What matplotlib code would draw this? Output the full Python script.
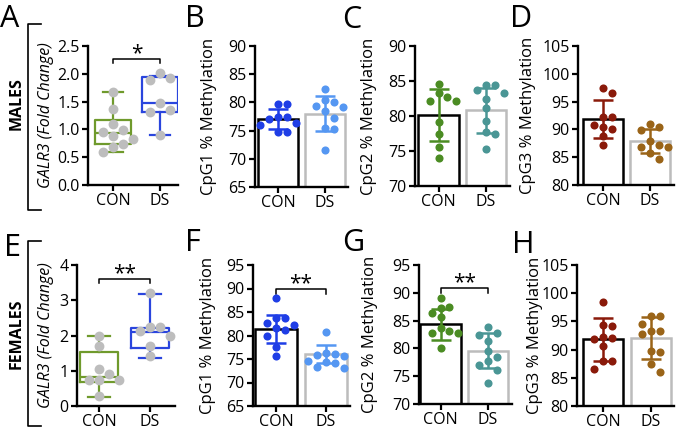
import numpy as np
import matplotlib
matplotlib.use("Agg")
import matplotlib.pyplot as plt
from matplotlib.lines import Line2D

plt.rcParams["font.family"] = ["Open Sans", "DejaVu Sans"]

# ---- data ----
groups = ["CON", "DS"]

# GALR3 fold change (box plots)
a_con = [1.68, 1.37, 1.09, 0.99, 0.96, 0.88, 0.83, 0.74, 0.69, 0.60]
a_ds = [2.01, 1.93, 1.88, 1.48, 1.34, 1.32, 0.90]
a_box_con = dict(q1=0.74, med=0.93, q3=1.17, whislo=0.60, whishi=1.68)
a_box_ds = dict(q1=1.32, med=1.47, q3=1.94, whislo=0.90, whishi=1.96)

e_con = [2.00, 1.69, 1.06, 0.90, 0.75, 0.75, 0.75, 0.28]
e_ds = [3.20, 2.23, 2.23, 2.12, 1.98, 1.69, 1.41]
e_box_con = dict(q1=0.68, med=0.83, q3=1.53, whislo=0.25, whishi=2.00)
e_box_ds = dict(q1=1.64, med=2.10, q3=2.22, whislo=1.35, whishi=3.17)

# % methylation (bars = mean, error = SD)
b_con = [79.7, 79.7, 77.5, 77.5, 77.0, 76.3, 76.0, 74.7, 74.7]
b_ds = [82.4, 80.4, 80.1, 79.3, 79.1, 78.5, 77.3, 75.4, 75.2, 71.5]
b_mean, b_sd = [77.0, 78.0], [1.75, 3.1]

c_con = [84.6, 83.3, 82.7, 82.1, 82.1, 79.1, 77.4, 75.6, 74.0]
c_ds = [84.5, 84.5, 83.7, 83.3, 82.5, 81.1, 79.3, 77.7, 77.4, 75.3]
c_mean, c_sd = [80.1, 80.8], [3.7, 3.25]

d_con = [97.5, 96.6, 92.2, 92.2, 90.8, 90.5, 90.0, 88.9, 87.2]
d_ds = [90.9, 90.5, 89.9, 87.9, 87.2, 86.9, 86.9, 85.7, 84.6]
d_mean, d_sd = [91.8, 87.9], [3.4, 2.1]

f_con = [87.9, 83.7, 83.7, 82.6, 82.2, 81.5, 81.2, 79.8, 77.6, 75.7]
f_ds = [80.8, 76.3, 76.1, 75.9, 75.7, 74.6, 74.4, 74.2, 73.2, 73.0]
f_mean, f_sd = [81.3, 76.1], [3.0, 1.9]

g_con = [89.0, 87.5, 87.3, 86.3, 85.6, 83.6, 83.1, 82.7, 82.7, 80.1]
g_ds = [83.9, 82.7, 82.5, 81.3, 79.6, 78.4, 77.7, 77.1, 76.2, 73.8]
g_mean, g_sd = [84.3, 79.6], [2.7, 3.2]

h_con = [98.5, 94.1, 94.4, 92.2, 92.0, 91.8, 90.6, 88.0, 88.0, 86.5]
h_ds = [96.0, 95.9, 94.6, 93.3, 93.3, 92.8, 89.8, 89.6, 87.4, 86.1]
h_mean, h_sd = [91.8, 92.0], [3.8, 3.7]

# colours
green_box, blue_box, grey_dot = "#6f9a2c", "#2a45dd", "#bdbdbd"
cpg1 = ("#1f3ee6", "#5597f2")
cpg2 = ("#4b8c23", "#4a9695")
cpg3 = ("#8a1a0a", "#9a6418")
ds_edge = "#bcbcbc"

W, H = 677, 438
fig = plt.figure(figsize=(W / 100, H / 100), dpi=100)


def add_ax(left, top, right, bottom, con_px, ds_px, ylim, yticks):
    ax = fig.add_axes([left / W, 1 - bottom / H, (right - left) / W, (bottom - top) / H])
    sp = ds_px - con_px
    ax.set_xlim((left - con_px) / sp, (right - con_px) / sp)
    ax.set_ylim(*ylim)
    ax.set_yticks(yticks)
    ax.set_xticks([0, 1])
    ax.set_xticklabels(groups, fontsize=12)
    for s in ["top", "right"]:
        ax.spines[s].set_visible(False)
    for s in ["left", "bottom"]:
        ax.spines[s].set_linewidth(1.7)
    ax.tick_params(width=1.6, length=4, labelsize=11.5, pad=2)
    ax.patch.set_alpha(0)
    ax.geom = (right - left, bottom - top, sp)
    return ax


def swarm(vals, ax, diam=8.5):
    # simple beeswarm offsets (in data x units)
    wpx, hpx, sp = ax.geom
    y0, y1 = ax.get_ylim()
    ypx = np.array(vals) * hpx / (y1 - y0)
    placed, offs = [], np.zeros(len(vals))
    for i in np.argsort(-ypx):
        for k in range(0, 20):
            cand = ((k + 1) // 2) * (1 if k % 2 else -1) * diam * 1.05
            cand = cand if k else 0.0
            if all((cand - px) ** 2 + (ypx[i] - py) ** 2 >= diam ** 2 for px, py in placed):
                break
        placed.append((cand, ypx[i]))
        offs[i] = cand / sp
    return offs


def set_ylabel(ax, text, center_px, italic=False):
    ax.set_ylabel(text, fontsize=12 if not italic else 11.5, style="italic" if italic else "normal")
    ax.yaxis.label.set_va("center")
    wpx = ax.geom[0]
    left = ax.get_position().x0 * W
    ax.yaxis.set_label_coords((center_px - left) / wpx, 0.5)


def sig(ax, y, text, tick):
    ax.plot([0, 0, 1, 1], [y - tick, y, y, y - tick], color="black", lw=1.1, clip_on=False)
    ax.annotate(text, (0.5, y), xytext=(0, 0), textcoords="offset points",
                ha="center", va="baseline", fontsize=15)


def box_panel(ax, con, ds, box_con, box_ds):
    stats = [dict(box_con), dict(box_ds)]
    for c, s in zip([green_box, blue_box], [0, 1]):
        ax.bxp([stats[s]], positions=[s], widths=0.75, capwidths=0.42, showfliers=False,
               boxprops=dict(color=c, lw=1.6), whiskerprops=dict(color=c, lw=1.6),
               capprops=dict(color=c, lw=1.6), medianprops=dict(color=c, lw=1.6),
               manage_ticks=False)
    for i, vals in enumerate([con, ds]):
        ax.scatter(i + swarm(vals, ax, 9.5), vals, s=50, color=grey_dot, zorder=5, lw=0)


def bar_panel(ax, con, ds, mean, sd, colors):
    ax.bar([0, 1], mean, width=0.85, color="white", edgecolor=["black", ds_edge], lw=1.8, zorder=1)
    for i, vals in enumerate([con, ds]):
        ax.scatter(i + swarm(vals, ax), vals, s=34, color=colors[i], zorder=3, lw=0)
        ax.errorbar(i, mean[i], yerr=sd[i], color=colors[i], capsize=7, capthick=1.8,
                    elinewidth=1.8, zorder=4)


# ---- top row: males ----
axA = add_ax(88, 46, 178, 185, 113, 160, (0, 2.5), np.arange(0, 2.51, 0.5))
axA.set_yticklabels([f"{v:.1f}" for v in np.arange(0, 2.51, 0.5)])
box_panel(axA, a_con, a_ds, a_box_con, a_box_ds)
sig(axA, 2.27, "*", 0.07)
set_ylabel(axA, "GALR3 (Fold Change)", 46, italic=True)

axB = add_ax(255, 46, 348, 187, 278, 325, (65, 90), range(65, 91, 5))
bar_panel(axB, b_con, b_ds, b_mean, b_sd, cpg1)
set_ylabel(axB, "CpG1 % Methylation", 209)

axC = add_ax(415, 46, 510, 186, 438.5, 486, (70, 90), range(70, 91, 5))
bar_panel(axC, c_con, c_ds, c_mean, c_sd, cpg2)
set_ylabel(axC, "CpG2 % Methylation", 369)

axD = add_ax(578, 46, 674, 185, 603, 650, (80, 105), range(80, 106, 5))
bar_panel(axD, d_con, d_ds, d_mean, d_sd, cpg3)
set_ylabel(axD, "CpG3 % Methylation", 528)

# ---- bottom row: females ----
axE = add_ax(77, 265, 175, 406, 99, 150, (0, 4), range(0, 5))
box_panel(axE, e_con, e_ds, e_box_con, e_box_ds)
sig(axE, 3.6, "**", 0.12)
set_ylabel(axE, "GALR3 (Fold Change)", 46, italic=True)

axF = add_ax(253, 265, 350, 406, 276, 326, (65, 95), range(65, 96, 5))
bar_panel(axF, f_con, f_ds, f_mean, f_sd, cpg1)
sig(axF, 89.8, "**", 0.9)
set_ylabel(axF, "CpG1 % Methylation", 208)

axG = add_ax(419, 265, 512, 404, 440.5, 488, (70, 95), range(70, 96, 5))
bar_panel(axG, g_con, g_ds, g_mean, g_sd, cpg2)
sig(axG, 90.8, "**", 0.75)
set_ylabel(axG, "CpG2 % Methylation", 370)

axH = add_ax(577, 265, 674, 406, 603, 651, (80, 105), range(80, 106, 5))
bar_panel(axH, h_con, h_ds, h_mean, h_sd, cpg3)
set_ylabel(axH, "CpG3 % Methylation", 535)

# ---- panel letters ----
letters = [("A", 0, 27), ("B", 185, 27), ("C", 342, 28), ("D", 510, 27),
           ("E", 4, 256), ("F", 185, 251), ("G", 342, 251), ("H", 512, 253)]
for t, x, y in letters:
    fig.text(x / W, 1 - y / H, t, fontsize=22, ha="left", va="baseline")

# ---- row labels with brackets ----
for name, y0, y1 in [("MALES", 24, 210), ("FEMALES", 241, 426)]:
    fig.add_artist(Line2D([41 / W, 28 / W, 28 / W, 41 / W],
                          [1 - y0 / H, 1 - y0 / H, 1 - y1 / H, 1 - y1 / H],
                          color="black", lw=1.2))
    yc = 104 if name == "MALES" else 334
    fig.text(17 / W, 1 - yc / H, name, rotation=90, fontsize=11.5, fontweight="bold",
             ha="center", va="center")

fig.savefig("out.png", dpi=100)
